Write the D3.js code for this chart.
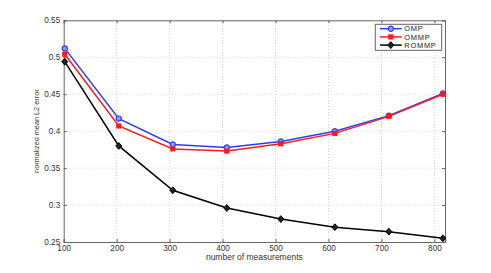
<!DOCTYPE html>
<html>
<head>
<meta charset="utf-8">
<script src="https://cdn.jsdelivr.net/npm/d3@7"></script>
<style>
  body { margin: 0; background: #fff; }
  svg { display: block; font-family: "Liberation Sans", Arial, sans-serif; }
</style>
</head>
<body>
<svg id="chart"></svg>
<script>
// data
let measurements = [102, 204, 306, 408, 510, 612, 714, 816];
let omp = [0.512, 0.417, 0.382, 0.378, 0.386, 0.400, 0.421, 0.451];
let ommp = [0.504, 0.407, 0.376, 0.373, 0.383, 0.397, 0.420, 0.450];
let rommp = [0.494, 0.380, 0.320, 0.296, 0.281, 0.270, 0.264, 0.255];
let x_ticks = [100, 200, 300, 400, 500, 600, 700, 800];
let y_ticks = [0.25, 0.3, 0.35, 0.4, 0.45, 0.5, 0.55];
let series_names = ['OMP', 'OMMP', 'ROMMP'];

let width = 491, height = 273;
let padding = { left: 63.7, right: 491 - 445, top: 20.3, bottom: 273 - 242 };

let svg = d3.select('#chart').attr('width', width).attr('height', height);

let x = d3.scaleLinear().domain([100, 820]).range([padding.left, width - padding.right]);
let y = d3.scaleLinear().domain([0.25, 0.55]).range([height - padding.bottom, padding.top]);

// grid
let grid = svg.append('g');
grid.selectAll('.gx').data(x_ticks.slice(1))
    .enter().append('line')
    .attr('x1', d => x(d)).attr('x2', d => x(d))
    .attr('y1', y(0.25)).attr('y2', y(0.55))
    .attr('stroke', '#c8c8c8').attr('stroke-width', 0.8).attr('stroke-dasharray', '1,2');
grid.selectAll('.gy').data(y_ticks.slice(1, -1))
    .enter().append('line')
    .attr('x1', x(100)).attr('x2', x(820))
    .attr('y1', d => y(d)).attr('y2', d => y(d))
    .attr('stroke', '#c8c8c8').attr('stroke-width', 0.8).attr('stroke-dasharray', '1,2');

// axes (matlab style: ticks inside, box on)
let axis_x = d3.axisBottom(x).tickValues(x_ticks).tickSize(-3).tickPadding(3).tickFormat(d => d);
let axis_y = d3.axisLeft(y).tickValues(y_ticks).tickSize(-3).tickPadding(3.5).tickFormat(d => d);
let axis_x_top = d3.axisTop(x).tickValues(x_ticks).tickSize(-3).tickFormat('');
let axis_y_right = d3.axisRight(y).tickValues(y_ticks).tickSize(-3).tickFormat('');

function style_axis(g) {
    g.selectAll('path').attr('stroke', '#666').attr('stroke-width', 1);
    g.selectAll('line').attr('stroke', '#666');
    g.selectAll('text').attr('font-size', '8.2px').attr('fill', '#333');
}

svg.append('g').attr('transform', `translate(0, ${height - padding.bottom})`).call(axis_x).call(style_axis);
svg.append('g').attr('transform', `translate(${padding.left}, 0)`).call(axis_y).call(style_axis);
svg.append('g').attr('transform', `translate(0, ${padding.top})`).call(axis_x_top).call(style_axis);
svg.append('g').attr('transform', `translate(${width - padding.right}, 0)`).call(axis_y_right).call(style_axis);

// axis labels
svg.append('text')
    .attr('x', (x(100) + x(820)) / 2)
    .attr('y', height - padding.bottom + 17.5)
    .attr('text-anchor', 'middle')
    .attr('font-size', '8.5px')
    .attr('fill', '#333')
    .text('number of measurements');
svg.append('text')
    .attr('transform', `translate(${39}, ${(y(0.25) + y(0.55)) / 2}) rotate(-90)`)
    .attr('text-anchor', 'middle')
    .attr('font-size', '7.3px')
    .attr('fill', '#333')
    .text('normalized mean L2 error');

// series
let series = [
    { name: series_names[0], values: omp, color: '#2b3cff', marker: 'circle' },
    { name: series_names[1], values: ommp, color: '#ff1a1a', marker: 'square' },
    { name: series_names[2], values: rommp, color: '#000', marker: 'diamond' }
];

function draw_marker(g, type, color) {
    if (type === 'circle') {
        g.append('circle').attr('r', 2.6).attr('fill', '#8f9bff').attr('stroke', color).attr('stroke-width', 1.2);
    } else if (type === 'square') {
        g.append('rect').attr('x', -2.6).attr('y', -2.6).attr('width', 5.2).attr('height', 5.2).attr('fill', color);
    } else {
        g.append('path').attr('d', 'M0,-3.4L3,0L0,3.4L-3,0Z').attr('fill', '#222').attr('stroke', color).attr('stroke-width', 1);
    }
}

let line = d3.line().x((d, i) => x(measurements[i])).y(d => y(d));

series.forEach(s => {
    svg.append('path')
        .datum(s.values)
        .attr('d', line)
        .attr('fill', 'none')
        .attr('stroke', s.color)
        .attr('stroke-width', 1.5);
    s.values.forEach((v, i) => {
        let g = svg.append('g').attr('transform', `translate(${x(measurements[i])}, ${y(v)})`);
        draw_marker(g, s.marker, s.color);
    });
});

// legend
let legend = svg.append('g').attr('transform', 'translate(375.3, 24.3)');
legend.append('rect')
    .attr('width', 66.4).attr('height', 26)
    .attr('fill', '#fff').attr('stroke', '#666').attr('stroke-width', 1);
series.forEach((s, i) => {
    let ly = 4.4 + i * 8.2;
    legend.append('line')
        .attr('x1', 4.7).attr('x2', 26.4).attr('y1', ly).attr('y2', ly)
        .attr('stroke', s.color).attr('stroke-width', 1.5);
    let g = legend.append('g').attr('transform', `translate(15.5, ${ly})`);
    draw_marker(g, s.marker, s.color);
    legend.append('text')
        .attr('x', 29).attr('y', ly).attr('dy', '0.35em')
        .attr('font-size', '7.5px').attr('letter-spacing', '0.7px').attr('fill', '#222')
        .text(s.name);
});
</script>
</body>
</html>
